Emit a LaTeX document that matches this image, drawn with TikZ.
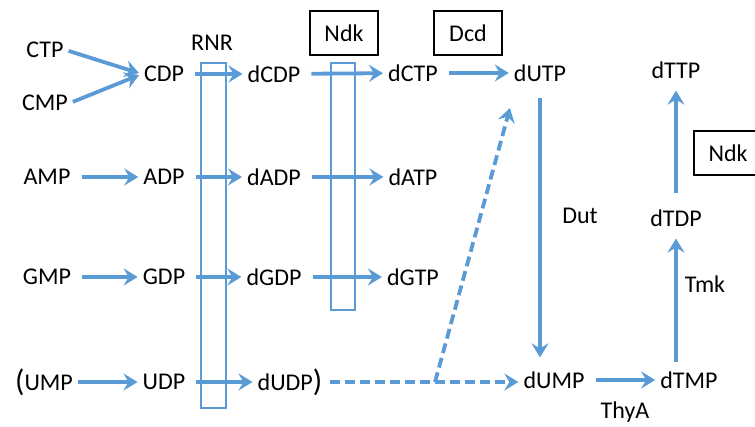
\documentclass[tikz,border=0pt]{standalone}
\usepackage{fontspec}
\setmainfont{Carlito}
\usepackage{tikz}
\usetikzlibrary{arrows.meta,positioning,calc}

\definecolor{flow}{RGB}{91,155,213}
\newcommand{\bigparen}[1]{{\fontsize{31}{31}\selectfont\raisebox{-1pt}{#1}}}

\begin{document}
\begin{tikzpicture}[x=1pt, y=-1pt,
  every node/.style={font=\fontsize{24}{28}\selectfont, inner sep=2pt},
  conv/.style={flow, line width=3.8pt, -{Stealth[length=14pt,width=17pt,inset=5pt]}, shorten <=9pt, shorten >=3pt},
  enzbox/.style={draw, line width=1.2pt, minimum width=68pt, minimum height=44pt},
  col/.style={draw=flow, line width=1.2pt}]
  \useasboundingbox (0,0) rectangle (755,427);

  % substrates
  \node (ctp) at (45,50) {CTP};
  \node (cmp) at (45,103) {CMP};
  \node (cdp) at (164,74) {CDP};
  \node (dcdp) at (274,74) {dCDP};
  \node (dctp) at (413,73) {dCTP};
  \node (dutp) at (540,73) {dUTP};
  \node (dttp) at (676,70) {dTTP};

  \node (amp) at (47,177) {AMP};
  \node (adp) at (164,177) {ADP};
  \node (dadp) at (274,177) {dADP};
  \node (datp) at (413,177) {dATP};

  \node (gmp) at (47,277) {GMP};
  \node (gdp) at (164,277) {GDP};
  \node (dgdp) at (274,277) {dGDP};
  \node (dgtp) at (413,277) {dGTP};

  \node (ump) at (44,382) {\bigparen{(}UMP};
  \node (udp) at (164,382) {UDP};
  \node (dudp) at (290,382) {dUDP\bigparen{)}};
  \node (dump) at (554,380) {dUMP};
  \node (dtmp) at (689,380) {dTMP};
  \node (dtdp) at (676,218) {dTDP};

  % enzymes
  \node (rnr) at (212,43) {RNR};
  \node[enzbox] (ndk1) at (344,33) {Ndk};
  \node[enzbox] (dcd) at (468,33) {Dcd};
  \node[enzbox] (ndk2) at (728,153) {Ndk};
  \node (dut) at (580,216) {Dut};
  \node (tmk) at (705,284) {Tmk};
  \node (thya) at (625,412) {ThyA};

  % reactions
  \draw[conv, shorten <=3pt] (ctp.east) -- (cdp.west);
  \draw[conv, shorten <=3pt] (cmp.east) -- (cdp.west);
  \draw[conv] (cdp) -- (dcdp);
  \draw[conv] (dcdp) -- (dctp);
  \draw[conv] (dctp) -- (dutp);
  \draw[conv] (amp) -- (adp);
  \draw[conv] (adp) -- (dadp);
  \draw[conv] (dadp) -- (datp);
  \draw[conv] (gmp) -- (gdp);
  \draw[conv] (gdp) -- (dgdp);
  \draw[conv] (dgdp) -- (dgtp);
  \draw[conv, shorten <=3pt] (ump) -- (udp);
  \draw[conv] (udp) -- (dudp);
  \draw[conv] (dump) -- (dtmp);
  \draw[conv, shorten <=14pt, shorten >=12pt] (dutp.south) -- (dutp.south |- dump.north);
  \draw[conv, shorten <=7pt, shorten >=10pt] (dtmp.north -| dtdp) -- (dtdp.south);
  \draw[conv, shorten <=14pt, shorten >=10pt] (dtdp.north) -- (dttp.south);

  % dUDP route
  \coordinate (split) at (435,382);
  \coordinate (dutpin) at (510,108);
  \draw[conv, dash pattern=on 10pt off 5pt, shorten <=6pt] (dudp.east) -- (dudp.east -| dump.west);
  \draw[conv, dash pattern=on 10pt off 5pt, shorten <=0pt, shorten >=0pt] (split) -- (dutpin);

  % enzyme columns
  \draw[col] (201,63) rectangle (226,408);
  \draw[col] (331,63) rectangle (355,310);
\end{tikzpicture}
\end{document}
